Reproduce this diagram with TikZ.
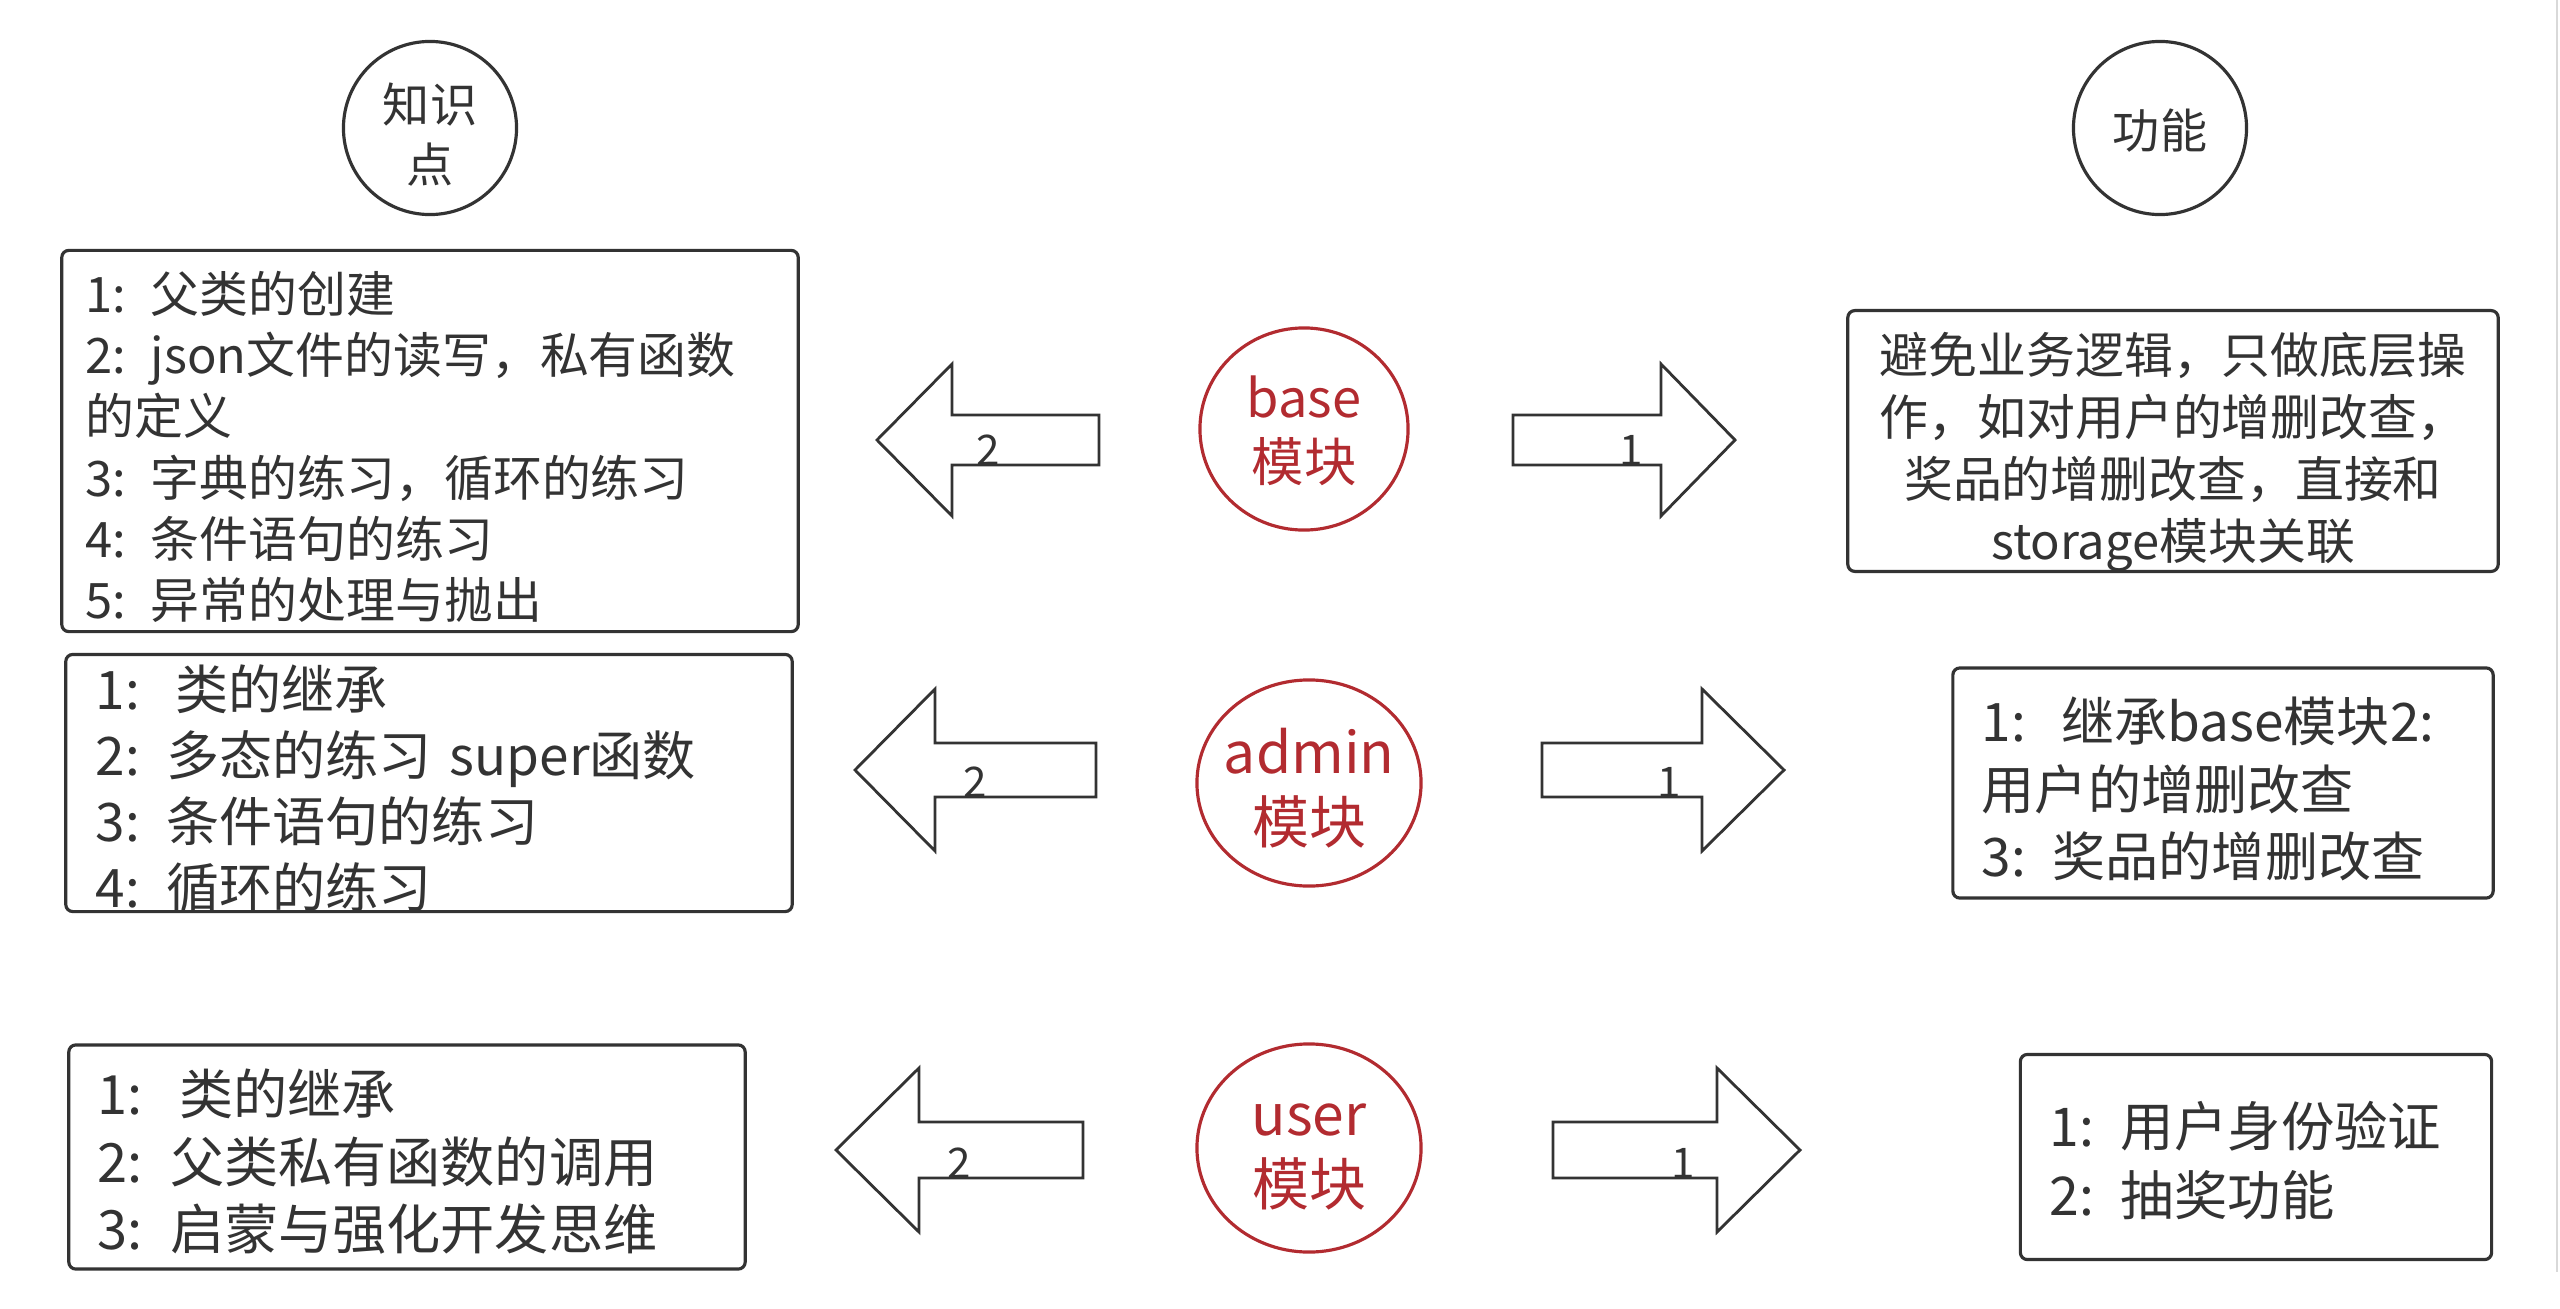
\documentclass[tikz,border=0pt]{standalone}
\usepackage{fontspec}
\setmainfont{Noto Sans CJK SC}
\usetikzlibrary{shapes.geometric}
\definecolor{ModRed}{HTML}{B22B30}
\definecolor{InkGray}{HTML}{333333}

\begin{document}
\begin{tikzpicture}[x=0.01cm, y=-0.01cm, every node/.style={text=InkGray},
  topic/.style={draw=InkGray, line width=0.9pt, circle, minimum size=1.73cm, inner sep=0pt, text width=1cm, align=center, font=\fontsize{13.4}{17.1}\selectfont},
  module/.style={draw=ModRed, text=ModRed, line width=0.9pt, ellipse, inner sep=-0.08cm, align=center},
  infobox/.style={draw=InkGray, line width=0.9pt, rounded corners=0.07cm, inner ysep=0pt},
  blockarrow/.style={draw=InkGray, line width=0.8pt},
  num/.style={anchor=base, inner sep=0pt, font=\fontsize{12}{12}\selectfont}]

  \useasboundingbox (0,0) rectangle (2560,1309);

  % headings of the two columns
  \node[topic, text height=15pt] (knowledge) at (430,128) {知识\\点};
  \node[topic, text height=13pt] (feature) at (2160,128) {功能};

  % the three modules
  \node[module, text width=1.3cm, text height=12.9pt, minimum width=2.08cm, minimum height=2.02cm, font=\fontsize{14.9}{18.1}\selectfont] (base) at (1304,429) {base\\模块};
  \node[module, text width=1.7cm, text height=15.7pt, minimum width=2.24cm, minimum height=2.06cm, font=\fontsize{16.2}{19.9}\selectfont] (admin) at (1309,783) {admin\\模块};
  \node[module, text width=1.3cm, text height=14.1pt, minimum width=2.24cm, minimum height=2.08cm, font=\fontsize{16.2}{19.9}\selectfont] (user) at (1309,1148) {user\\模块};

  % knowledge points
  \node[infobox, inner xsep=0.24cm, text width=6.88cm, text height=15.1pt, minimum height=3.81cm, align=left, font=\fontsize{13.9}{17.4}\selectfont] (kbase) at (430,441) {1: 父类的创建\\2: json文件的读写，私有函数\\的定义\\3: 字典的练习，循环的练习\\4: 条件语句的练习\\5: 异常的处理与抛出};
  \begin{scope}
    \clip (66,655) rectangle (792,912);
    \node[anchor=north west, inner sep=0pt, text width=6.68cm, align=left, font=\fontsize{15.1}{18.8}\selectfont] (kadmintext) at (95,664) {1:~~类的继承\\2: 多态的练习 super函数\\3: 条件语句的练习\\4: 循环的练习};
  \end{scope}
  \node[infobox, minimum width=7.26cm, minimum height=2.57cm] (kadmin) at (429,783) {};
  \node[infobox, inner xsep=0.29cm, text width=6.18cm, text height=15.7pt, minimum height=2.24cm, align=left, font=\fontsize{15.4}{19.2}\selectfont] (kuser) at (407,1157) {1:~~类的继承\\2: 父类私有函数的调用\\3: 启蒙与强化开发思维};

  % features
  \node[infobox, inner xsep=0.24cm, text width=6.02cm, text height=17.9pt, minimum height=2.53cm, align=center, font=\fontsize{13.9}{17.6}\selectfont] (gbase) at (2173,441) {避免业务逻辑，只做底层操\\作，如对用户的增删改查，\\奖品的增删改查，直接和\\storage模块关联};
  \node[infobox, inner xsep=0.29cm, text width=4.82cm, text height=16.1pt, minimum height=2.30cm, align=left, font=\fontsize{15.1}{19.2}\selectfont] (gadmin) at (2223,783) {1:~~继承base模块2:\\用户的增删改查\\3: 奖品的增删改查};
  \node[infobox, inner xsep=0.29cm, text width=4.13cm, text height=15pt, minimum height=2.05cm, align=left, font=\fontsize{15.2}{19.6}\selectfont] (guser) at (2256,1157) {1: 用户身份验证\\2: 抽奖功能};

  % block arrows, 2 to the left and 1 to the right
  \draw[blockarrow] (877,440) -- ++(75,-76) -- ++(0,51) -- ++(147,0) -- ++(0,50) -- ++(-147,0) -- ++(0,51) -- cycle;
  \draw[blockarrow] (1735,440) -- ++(-74,-76) -- ++(0,51) -- ++(-148,0) -- ++(0,50) -- ++(148,0) -- ++(0,51) -- cycle;
  \draw[blockarrow] (855,770) -- ++(80,-81) -- ++(0,54) -- ++(161,0) -- ++(0,54) -- ++(-161,0) -- ++(0,54) -- cycle;
  \draw[blockarrow] (1784,770) -- ++(-82,-81) -- ++(0,54) -- ++(-160,0) -- ++(0,54) -- ++(160,0) -- ++(0,54) -- cycle;
  \draw[blockarrow] (836,1150) -- ++(83,-82) -- ++(0,54) -- ++(164,0) -- ++(0,56) -- ++(-164,0) -- ++(0,54) -- cycle;
  \draw[blockarrow] (1800,1150) -- ++(-83,-82) -- ++(0,54) -- ++(-164,0) -- ++(0,56) -- ++(164,0) -- ++(0,54) -- cycle;
  \node[num] (basetwo) at (988,465) {2};
  \node[num] (baseone) at (1631,465) {1};
  \node[num] (admintwo) at (975,797) {2};
  \node[num] (adminone) at (1669,797) {1};
  \node[num] (usertwo) at (959,1178) {2};
  \node[num] (userone) at (1683,1178) {1};

  \draw[black!15, line width=0.5pt] (2557,0) -- (2557,1272);
\end{tikzpicture}
\end{document}
